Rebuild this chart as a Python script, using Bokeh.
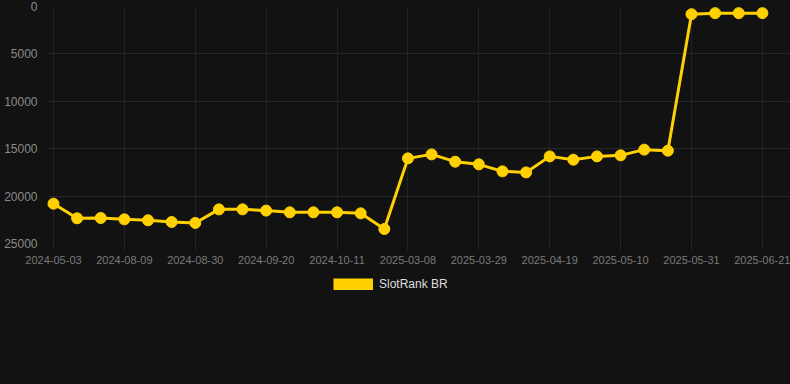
from bokeh.plotting import figure
from bokeh.layouts import column
from bokeh.models import (Range1d, FixedTicker, Legend, LegendItem, ColumnDataSource,
                          GlobalInlineStyleSheet)
from bokeh.embed import file_html
from bokeh.resources import INLINE

dates = ["2024-05-03", "2024-07-26", "2024-08-02", "2024-08-09", "2024-08-16", "2024-08-23",
         "2024-08-30", "2024-09-06", "2024-09-13", "2024-09-20", "2024-09-27", "2024-10-04",
         "2024-10-11", "2024-10-18", "2024-10-25", "2025-03-08", "2025-03-15", "2025-03-22",
         "2025-03-29", "2025-04-05", "2025-04-12", "2025-04-19", "2025-04-26", "2025-05-03",
         "2025-05-10", "2025-05-17", "2025-05-24", "2025-05-31", "2025-06-07", "2025-06-14",
         "2025-06-21"]
ranks = [20800, 22340, 22310, 22450, 22550, 22730, 22830, 21400, 21400, 21530, 21710, 21710,
         21710, 21820, 23470, 16020, 15600, 16370, 16650, 17390, 17500, 15810, 16160, 15810,
         15700, 15100, 15210, 810, 700, 700, 700]
y_ticks = [0, 5000, 10000, 15000, 20000, 25000]
series_name = "SlotRank BR"

BG = "#121212"
GOLD = "#FFD100"
FONT = "Liberation Sans"

idx = list(range(len(dates)))
src = ColumnDataSource(data=dict(x=idx, y=ranks, d=dates))

p = figure(width=790, height=270, output_backend="svg", toolbar_location=None,
           x_range=Range1d(-0.296, 31.19), y_range=Range1d(25000, 0),
           background_fill_color=BG, border_fill_color=BG, outline_line_color=None,
           min_border_left=46, min_border_right=0, min_border_top=6, min_border_bottom=27)

p.line("x", "y", source=src, line_color=GOLD, line_width=3)
p.scatter("x", "y", source=src, size=11, fill_color=GOLD, line_color=GOLD)

tick_idx = idx[::3]
p.xaxis.ticker = FixedTicker(ticks=tick_idx)
p.xaxis.major_label_overrides = {i: dates[i] for i in tick_idx}
p.yaxis.ticker = FixedTicker(ticks=y_ticks)
p.yaxis.major_label_overrides = {t: str(t) for t in y_ticks}

for ax in (p.xaxis, p.yaxis):
    ax.axis_line_color = None
    ax.minor_tick_line_color = None
    ax.major_label_text_font = FONT
p.yaxis.major_tick_line_color = None
p.yaxis.major_label_text_color = "#8a8a8a"
p.yaxis.major_label_text_font_size = "12px"
p.yaxis.major_label_standoff = 3
p.xaxis.major_tick_line_color = "#2a2a2a"
p.xaxis.major_tick_out = 6
p.xaxis.major_tick_in = 0
p.xaxis.major_label_text_color = "#7a7a7a"
p.xaxis.major_label_text_font_size = "11px"
p.xaxis.major_label_standoff = 6

p.xgrid.grid_line_color = "#222222"
p.ygrid.grid_line_color = "#262626"

# legend strip below the chart
lg = figure(width=790, height=114, output_backend="svg", toolbar_location=None,
            x_axis_type=None, y_axis_type=None,
            background_fill_color=BG, border_fill_color=BG, outline_line_color=None,
            min_border_left=0, min_border_right=0, min_border_top=0, min_border_bottom=0)
lg.grid.visible = False
swatch = lg.line("x", "y", source=src, line_color=GOLD, line_width=12, line_cap="butt", visible=False)
legend = Legend(items=[LegendItem(label=series_name, renderers=[swatch])],
                location=(287, 93), orientation="horizontal",
                glyph_width=40, glyph_height=12, padding=0, margin=0, spacing=0,
                label_standoff=6, label_text_color="#dddddd", label_text_font=FONT,
                label_text_font_size="12px", border_line_color=None,
                background_fill_alpha=0, inactive_fill_alpha=0)
lg.add_layout(legend)

page = column(p, lg, spacing=0,
              stylesheets=[GlobalInlineStyleSheet(css="html, body { background: #121212; }")])
open("out.html", "w").write(file_html(page, INLINE))
